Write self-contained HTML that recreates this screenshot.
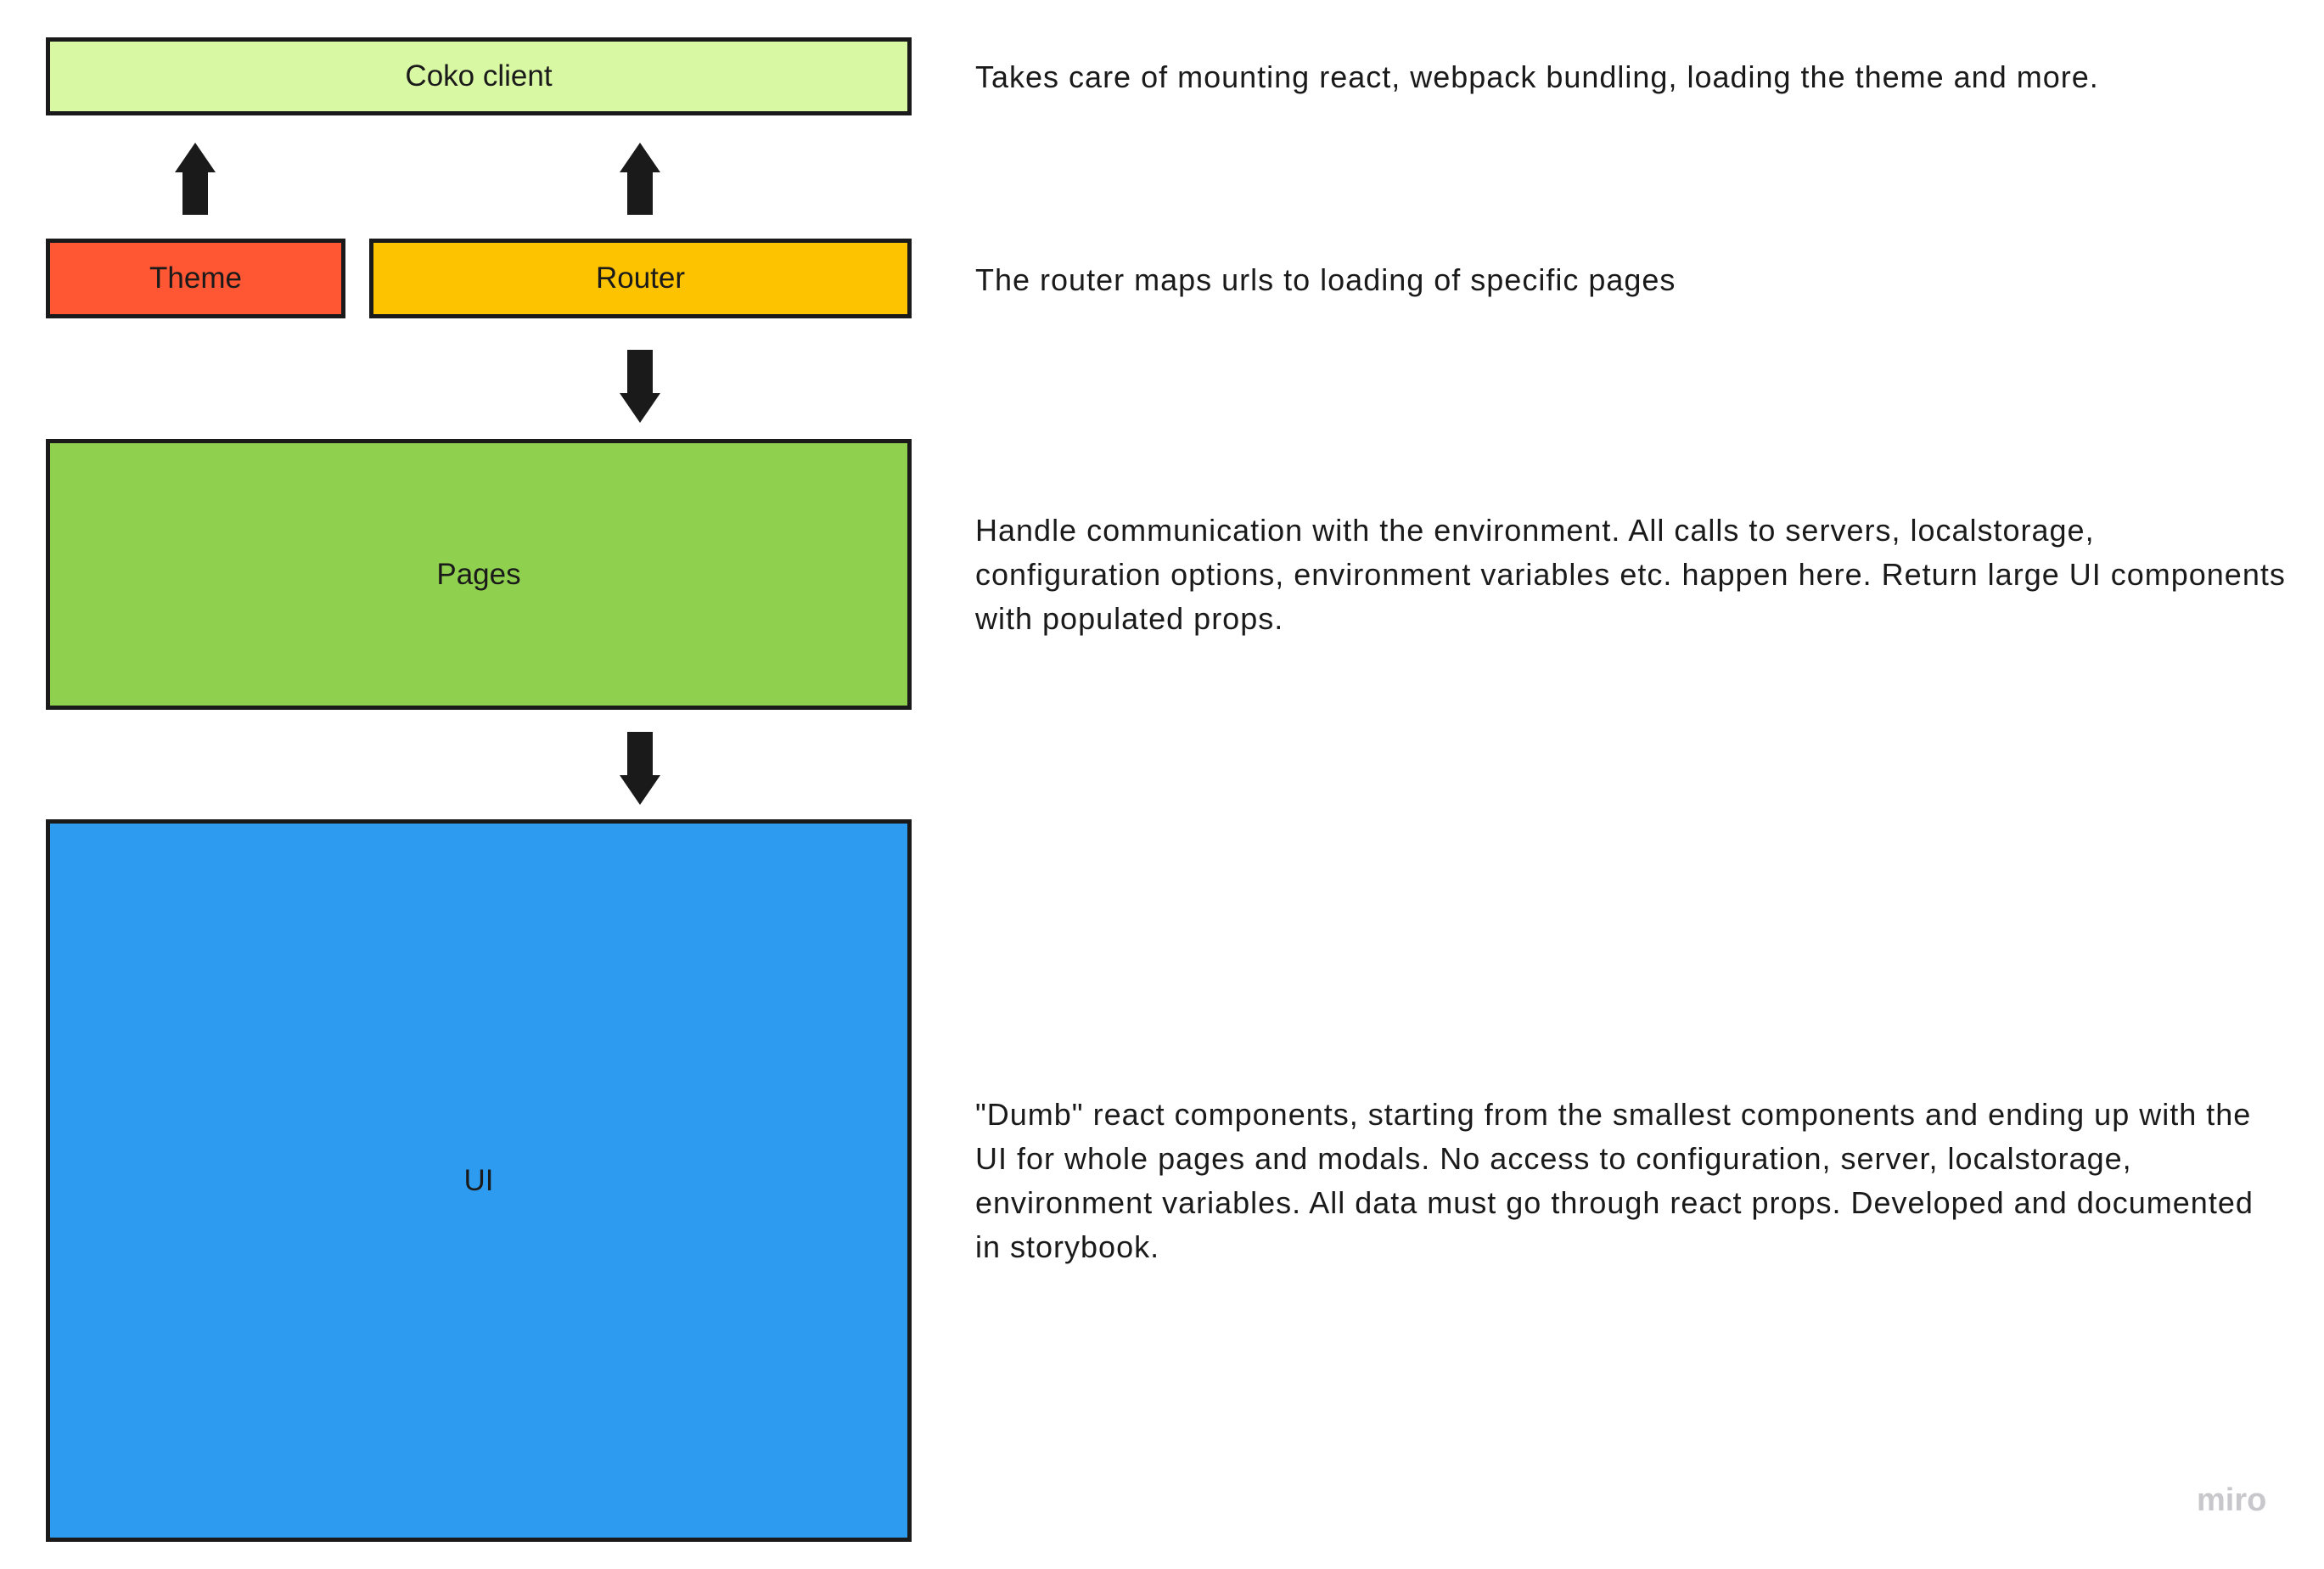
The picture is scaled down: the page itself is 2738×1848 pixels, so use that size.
<!DOCTYPE html>
<html><head><style>
body{margin:0;width:2738px;height:1848px;background:#fff;position:relative;overflow:hidden;font-family:"Liberation Sans",sans-serif;}
.b{position:absolute;box-sizing:border-box;border:5px solid #1a1a1a;display:flex;align-items:center;justify-content:center;font-size:35px;color:#1a1a1a;}
.t{position:absolute;left:1149px;font-size:36px;letter-spacing:1px;color:#1a1a1a;white-space:nowrap;line-height:52px;}
</style></head><body>
<div class="b" style="left:54px;top:44px;width:1020px;height:92px;background:#d9f8a3">Coko client</div>
<div class="b" style="left:54px;top:281px;width:353px;height:94px;background:#ff5733">Theme</div>
<div class="b" style="left:435px;top:281px;width:639px;height:94px;background:#fec300">Router</div>
<div class="b" style="left:54px;top:517px;width:1020px;height:319px;background:#8fd14f">Pages</div>
<div class="b" style="left:54px;top:965px;width:1020px;height:851px;background:#2d9bf0">UI</div>
<svg width="2738" height="1848" style="position:absolute;left:0;top:0">
<g fill="#1a1a1a">
<polygon points="230,168 254,203 245,203 245,253 215,253 215,203 206,203"/>
<polygon points="754,168 778,203 769,203 769,253 739,253 739,203 730,203"/>
<polygon points="754,498 778,463 769,463 769,412 739,412 739,463 730,463"/>
<polygon points="754,948 778,913 769,913 769,862 739,862 739,913 730,913"/>
</g>
</svg>
<div class="t" style="top:65px">Takes care of mounting react, webpack bundling, loading the theme and more.</div>
<div class="t" style="top:304px">The router maps urls to loading of specific pages</div>
<div class="t" style="top:599px">Handle communication with the environment. All calls to servers, localstorage,<br>configuration options, environment variables etc. happen here. Return large UI components<br>with populated props.</div>
<div class="t" style="top:1287px">"Dumb" react components, starting from the smallest components and ending up with the<br>UI for whole pages and modals. No access to configuration, server, localstorage,<br>environment variables. All data must go through react props. Developed and documented<br>in storybook.</div>
<div style="position:absolute;left:2588px;top:1746px;font-size:38px;font-weight:bold;color:#c8c8cc;">miro</div>
</body></html>
